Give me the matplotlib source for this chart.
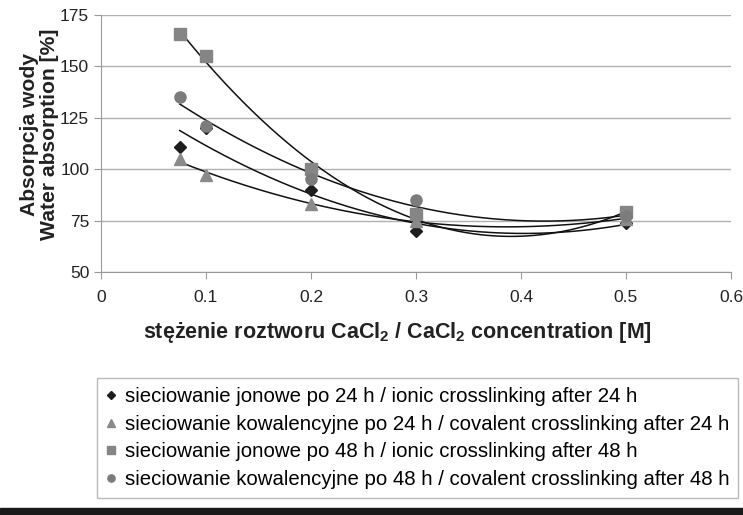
import numpy as np
import matplotlib.pyplot as plt
from matplotlib.patches import Rectangle

plt.rcParams['font.family'] = ['Liberation Sans', 'DejaVu Sans']
plt.rcParams['mathtext.fontset'] = 'custom'
plt.rcParams['mathtext.rm'] = 'Liberation Sans'
plt.rcParams['mathtext.bf'] = 'Liberation Sans:bold'

conc = [0.075, 0.1, 0.2, 0.3, 0.5]
ionic_24 = [111, 120, 90, 70, 74]
covalent_24 = [105, 97, 83, 75, 76]
ionic_48 = [166, 155, 100, 78, 79]
covalent_48 = [135, 121, 95, 85, 77]

labels = ['sieciowanie jonowe po 24 h / ionic crosslinking after 24 h',
          'sieciowanie kowalencyjne po 24 h / covalent crosslinking after 24 h',
          'sieciowanie jonowe po 48 h / ionic crosslinking after 48 h',
          'sieciowanie kowalencyjne po 48 h / covalent crosslinking after 48 h']
series = [ionic_24, covalent_24, ionic_48, covalent_48]
markers = ['D', '^', 's', 'o']
colors = ['#1e1e1e', '#8a8a8a', '#858585', '#7c7c7c']
sizes = [6, 8, 8, 8]

fig = plt.figure(figsize=(7.43, 5.15), dpi=100)
ax = fig.add_axes([101 / 743, 1 - 272 / 515, 630 / 743, 257 / 515])

xs = np.linspace(min(conc), max(conc), 200)
handles = []
for vals, m, c, s, lab in zip(series, markers, colors, sizes, labels):
    h, = ax.plot(conc, vals, linestyle='none', marker=m, color=c, markersize=s, zorder=3, label=lab)
    handles.append(h)
    # second order trendline like in Excel
    p = np.polyfit(conc, vals, 2)
    ax.plot(xs, np.polyval(p, xs), color='#111111', linewidth=1.1, zorder=2)

ax.set_xlim(0, 0.6)
ax.set_ylim(50, 175)
ax.set_xticks([0, 0.1, 0.2, 0.3, 0.4, 0.5, 0.6])
ax.set_xticklabels(['0', '0.1', '0.2', '0.3', '0.4', '0.5', '0.6'])
ax.set_yticks([50, 75, 100, 125, 150, 175])
ax.grid(True, axis='y', color='#b0b0b0', linewidth=1)
ax.set_axisbelow(True)
for sp in ['top', 'right']:
    ax.spines[sp].set_visible(False)
for sp in ['left', 'bottom']:
    ax.spines[sp].set_color('#999999')
ax.tick_params(colors='#999999', labelcolor='#222222', labelsize=12.5, length=5, direction='out')
ax.tick_params(axis='x', pad=8)

ax.set_xlabel('stężenie roztworu CaCl$_\\mathbf{2}$ / CaCl$_\\mathbf{2}$ concentration [M]',
              fontsize=15.5, fontweight='bold', color='#222222')
ax.xaxis.set_label_coords(0.47, -0.185)
ax.set_ylabel('Absorpcja wody\nWater absorption [%]', fontsize=15.2, fontweight='bold',
              color='#222222', linespacing=1.1)
ax.yaxis.set_label_coords(-0.066, 0.535)

leg = fig.legend(handles=handles, loc='upper left', bbox_to_anchor=(97 / 743, 1 - 378 / 515),
                 fontsize=14.7, frameon=True, fancybox=False, handlelength=0.5, handletextpad=0.4,
                 markerscale=0.65, borderpad=0.45, borderaxespad=0, labelspacing=0.42,
                 edgecolor='#aaaaaa')
leg.get_frame().set_linewidth(1)

fig.patches.append(Rectangle((0, 0), 1, 7 / 515, transform=fig.transFigure, color='#1a1a1a'))

fig.savefig('out.png', dpi=100)
